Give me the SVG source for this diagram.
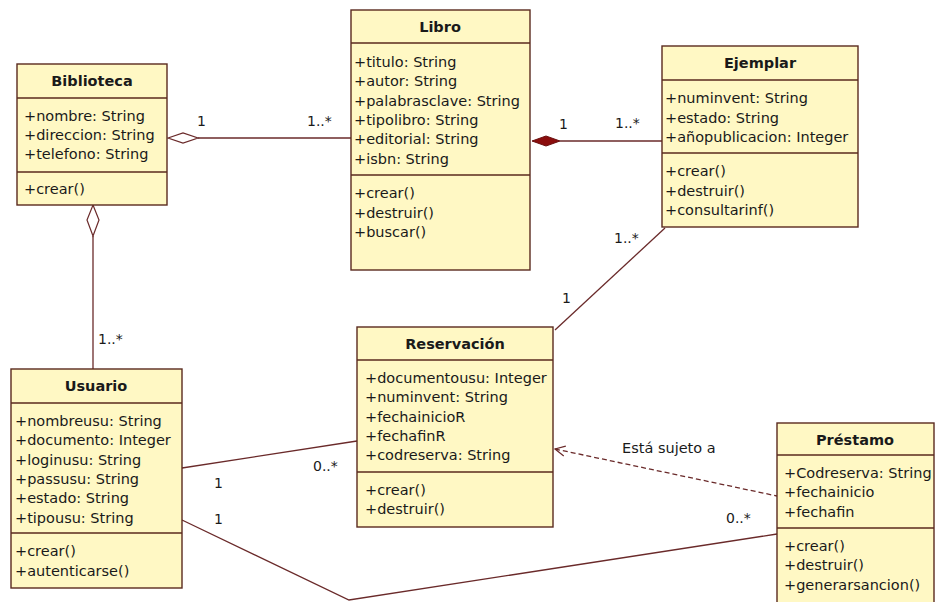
<svg xmlns="http://www.w3.org/2000/svg" width="936" height="602" viewBox="0 0 936 602">
  <style>
    .box { fill: #FFF8C4; stroke: #5A2A1E; stroke-width: 1.4; }
    .sep { stroke: #5A2A1E; stroke-width: 1.4; }
    text { font-family: "DejaVu Sans", Verdana, sans-serif; font-size: 14.5px; fill: #1A1A1A; }
    .title { font-weight: bold; text-anchor: middle; }
    .edge { fill: none; stroke: #6A2A2A; stroke-width: 1.3; }
    .dash { stroke-dasharray: 5 3; }
    .hollow { fill: #FFFFFF; stroke: #6A2A2A; stroke-width: 1.2; }
    .filled { fill: #8B0D0D; stroke: #6A1010; stroke-width: 1; }
    .mult { font-size: 14px; }
  </style>
  <defs>
    <!-- open dependency arrowhead, tip at the start of the line -->
    <marker id="open-arrow" viewBox="0 0 12 12" refX="1" refY="6" markerWidth="12" markerHeight="12" markerUnits="userSpaceOnUse" orient="auto">
      <path d="M11,1 L1,6 L11,11" fill="none" stroke="#6A2A2A" stroke-width="1.2"/>
    </marker>
  </defs>
  <rect width="936" height="602" fill="#FFFFFF"/>

  <!-- associations -->
  <g id="connectors">
    <!-- Biblioteca <>— Libro -->
    <line class="edge" x1="198" y1="138" x2="351" y2="138"/>
    <polygon class="hollow" points="168,138 183,133 198,138 183,143"/>
    <text class="mult" x="197" y="126">1</text>
    <text class="mult" x="307" y="126">1..*</text>

    <!-- Libro <#>— Ejemplar -->
    <line class="edge" x1="560" y1="141" x2="662" y2="141"/>
    <polygon class="filled" points="532,141 546,136 560,141 546,146"/>
    <text class="mult" x="559" y="129">1</text>
    <text class="mult" x="615" y="128">1..*</text>

    <!-- Biblioteca <>— Usuario -->
    <line class="edge" x1="93" y1="236" x2="93" y2="369"/>
    <polygon class="hollow" points="93,205 99,220 93,236 87,220"/>
    <text class="mult" x="98" y="344">1..*</text>

    <!-- Ejemplar — Reservación -->
    <line class="edge" x1="665" y1="228" x2="555" y2="330"/>
    <text class="mult" x="614" y="243">1..*</text>
    <text class="mult" x="562" y="303">1</text>

    <!-- Usuario — Reservación -->
    <line class="edge" x1="182" y1="468" x2="357" y2="441"/>
    <text class="mult" x="214" y="488">1</text>
    <text class="mult" x="313" y="471">0..*</text>

    <!-- Usuario — Préstamo -->
    <polyline class="edge" points="182,520 349,600 777,534"/>
    <text class="mult" x="214" y="524">1</text>
    <text class="mult" x="726" y="523">0..*</text>

    <!-- Préstamo ..> Reservación -->
    <line class="edge dash" x1="555" y1="449" x2="777" y2="496" marker-start="url(#open-arrow)"/>
    <text x="622" y="453">Está sujeto a</text>
  </g>

  <g id="biblioteca">
    <rect class="box" x="17" y="64" width="150" height="141"/>
    <line class="sep" x1="17" y1="98" x2="167" y2="98"/>
    <line class="sep" x1="17" y1="172" x2="167" y2="172"/>
    <text class="title" x="92" y="86">Biblioteca</text>
    <text x="24" y="121">+nombre: String</text>
    <text x="24" y="140">+direccion: String</text>
    <text x="24" y="159">+telefono: String</text>
    <text x="24" y="194">+crear()</text>
  </g>

  <g id="libro">
    <rect class="box" x="351" y="10" width="179" height="260"/>
    <line class="sep" x1="351" y1="43" x2="530" y2="43"/>
    <line class="sep" x1="351" y1="175" x2="530" y2="175"/>
    <text class="title" x="440" y="32">Libro</text>
    <text x="354" y="67">+titulo: String</text>
    <text x="354" y="86">+autor: String</text>
    <text x="354" y="105.5">+palabrasclave: String</text>
    <text x="354" y="125">+tipolibro: String</text>
    <text x="354" y="144">+editorial: String</text>
    <text x="354" y="163.5">+isbn: String</text>
    <text x="354" y="198">+crear()</text>
    <text x="354" y="218">+destruir()</text>
    <text x="354" y="237">+buscar()</text>
  </g>

  <g id="ejemplar">
    <rect class="box" x="662" y="46" width="196" height="181"/>
    <line class="sep" x1="662" y1="80" x2="858" y2="80"/>
    <line class="sep" x1="662" y1="153" x2="858" y2="153"/>
    <text class="title" x="760" y="68">Ejemplar</text>
    <text x="665" y="103">+numinvent: String</text>
    <text x="665" y="122.5">+estado: String</text>
    <text x="665" y="142">+añopublicacion: Integer</text>
    <text x="665" y="176">+crear()</text>
    <text x="665" y="195.5">+destruir()</text>
    <text x="665" y="215">+consultarinf()</text>
  </g>

  <g id="usuario">
    <rect class="box" x="11" y="369" width="171" height="219"/>
    <line class="sep" x1="11" y1="403" x2="182" y2="403"/>
    <line class="sep" x1="11" y1="533" x2="182" y2="533"/>
    <text class="title" x="96" y="391">Usuario</text>
    <text x="15" y="426">+nombreusu: String</text>
    <text x="15" y="445.3">+documento: Integer</text>
    <text x="15" y="464.6">+loginusu: String</text>
    <text x="15" y="484">+passusu: String</text>
    <text x="15" y="503">+estado: String</text>
    <text x="15" y="522.5">+tipousu: String</text>
    <text x="15" y="556">+crear()</text>
    <text x="15" y="575.5">+autenticarse()</text>
  </g>

  <g id="reservacion">
    <rect class="box" x="357" y="327" width="196" height="200"/>
    <line class="sep" x1="357" y1="360" x2="553" y2="360"/>
    <line class="sep" x1="357" y1="472" x2="553" y2="472"/>
    <text class="title" x="455" y="349">Reservación</text>
    <text x="365" y="383">+documentousu: Integer</text>
    <text x="365" y="402">+numinvent: String</text>
    <text x="365" y="422">+fechainicioR</text>
    <text x="365" y="441">+fechafinR</text>
    <text x="365" y="460">+codreserva: String</text>
    <text x="365" y="495">+crear()</text>
    <text x="365" y="514">+destruir()</text>
  </g>

  <g id="prestamo">
    <rect class="box" x="777" y="423" width="157" height="184"/>
    <line class="sep" x1="777" y1="455" x2="934" y2="455"/>
    <line class="sep" x1="777" y1="528" x2="934" y2="528"/>
    <text class="title" x="855" y="445">Préstamo</text>
    <text x="784" y="478">+Codreserva: String</text>
    <text x="784" y="497">+fechainicio</text>
    <text x="784" y="517">+fechafin</text>
    <text x="784" y="551">+crear()</text>
    <text x="784" y="570">+destruir()</text>
    <text x="784" y="590">+generarsancion()</text>
  </g>
</svg>
